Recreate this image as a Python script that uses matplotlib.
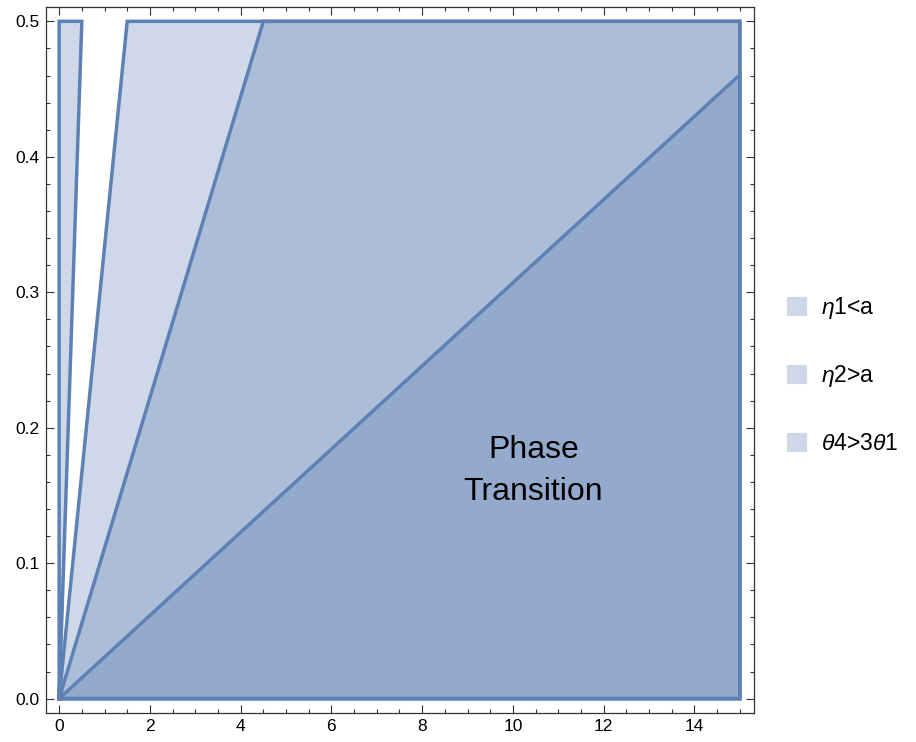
import numpy as np
import matplotlib
matplotlib.use("Agg")
import matplotlib.pyplot as plt
from matplotlib.patches import Patch
from matplotlib.ticker import MultipleLocator

plt.rcParams['font.family'] = ['Liberation Sans', 'DejaVu Sans']
plt.rcParams['mathtext.fontset'] = 'custom'
plt.rcParams['mathtext.it'] = 'Liberation Sans:italic'
plt.rcParams['mathtext.rm'] = 'Liberation Sans'

# plot domain
x_max = 15
y_max = 0.5

# boundaries x = k*y of the wedge regions
k_strip = 1      # eta1<a strip: 0 < x < y
k_eta1 = 3       # eta1<a main part: x > 3y
k_eta2 = 9       # eta2>a: x > 9y
theta_slope = 0.0307   # theta4>3theta1: y < slope*x

labels = [r"$\eta$1<a", r"$\eta$2>a", r"$\theta$4>3$\theta$1"]
annot = "Phase\nTransition"

base = '#5E81B5'
alpha = 0.3

fig = plt.figure(figsize=(9.16, 7.42), dpi=100)
ax = fig.add_axes([0.0497, 0.0391, 0.823 - 0.0497, 0.9906 - 0.0391])

# region 1 : eta1<a (two pieces)
strip = np.array([[0, 0], [0, y_max], [k_strip * y_max, y_max]])
wedge1 = np.array([[0, 0], [k_eta1 * y_max, y_max], [x_max, y_max], [x_max, 0]])
# region 2 : eta2>a
wedge2 = np.array([[0, 0], [k_eta2 * y_max, y_max], [x_max, y_max], [x_max, 0]])
# region 3 : theta4>3theta1
wedge3 = np.array([[0, 0], [x_max, theta_slope * x_max], [x_max, 0]])

for poly in [strip, wedge1, wedge2, wedge3]:
    ax.fill(poly[:, 0], poly[:, 1], color=base, alpha=alpha, lw=0)
    closed = np.vstack([poly, poly[:1]])
    ax.plot(closed[:, 0], closed[:, 1], color=base, lw=2.5,
            solid_joinstyle='miter')

ax.text(10.45, 0.168, annot, ha='center', va='center', fontsize=23,
        linespacing=1.55)

ax.set_xlim(-0.30, 15.31)
ax.set_ylim(-0.0106, 0.5106)
ax.xaxis.set_major_locator(MultipleLocator(2))
ax.xaxis.set_minor_locator(MultipleLocator(0.5))
ax.yaxis.set_major_locator(MultipleLocator(0.1))
ax.yaxis.set_minor_locator(MultipleLocator(0.02))
ax.yaxis.set_major_formatter(plt.FuncFormatter(lambda v, p: f"{v:.1f}"))
ax.tick_params(which='both', direction='in', top=True, right=True,
               labelsize=12.5, color='#333333', pad=4)
ax.tick_params(which='major', length=5.8, width=0.8)
ax.tick_params(which='minor', length=3.2, width=0.8)
for s in ax.spines.values():
    s.set_color('#333333')
    s.set_linewidth(0.9)

handles = [Patch(facecolor=base, alpha=alpha, edgecolor='#9DB2D2', lw=1)
           for _ in labels]
leg = fig.legend(handles, labels, loc='center left',
                 bbox_to_anchor=(0.859, 0.495), frameon=False, fontsize=16.5,
                 handlelength=0.85, handleheight=0.85, handletextpad=0.65,
                 labelspacing=1.85, borderpad=0, borderaxespad=0)

fig.savefig("out.png", dpi=100)
